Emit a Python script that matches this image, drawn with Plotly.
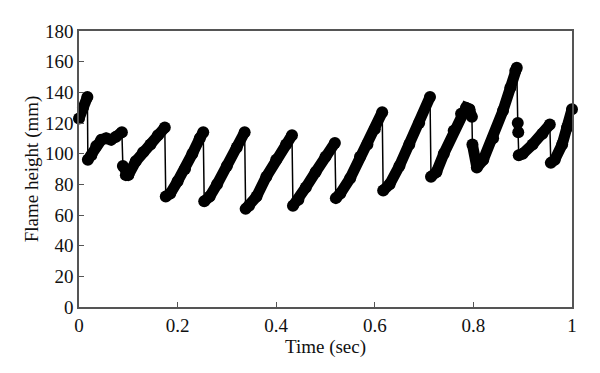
import plotly.graph_objects as go

# Time (sec) and flame height (mm)
time_s = [0.000, 0.008, 0.017, 0.018, 0.025, 0.035, 0.045, 0.055, 0.065, 0.075, 0.087,
          0.089, 0.095, 0.100, 0.115, 0.130, 0.145, 0.160, 0.174,
          0.176, 0.185, 0.200, 0.215, 0.230, 0.245, 0.252,
          0.254, 0.265, 0.280, 0.300, 0.320, 0.336,
          0.338, 0.345, 0.360, 0.380, 0.400, 0.420, 0.432,
          0.434, 0.445, 0.460, 0.480, 0.500, 0.519,
          0.521, 0.530, 0.550, 0.570, 0.585, 0.600, 0.615,
          0.617, 0.630, 0.650, 0.670, 0.690, 0.712,
          0.714, 0.725, 0.740, 0.760, 0.775, 0.785, 0.792, 0.797,
          0.798, 0.807, 0.820, 0.840, 0.860, 0.875, 0.885, 0.888,
          0.890, 0.891, 0.892, 0.900, 0.920, 0.940, 0.955,
          0.957, 0.965, 0.980, 0.990, 1.000]
height_mm = [123, 130, 137, 96, 99, 105, 109, 110, 109, 111, 114,
             92, 86, 86, 95, 101, 106, 112, 117,
             72, 74, 82, 90, 100, 110, 114,
             69, 72, 80, 92, 104, 114,
             64, 66, 72, 85, 96, 106, 112,
             66, 70, 78, 88, 98, 107,
             71, 74, 84, 98, 106, 116, 127,
             76, 80, 92, 106, 120, 137,
             85, 88, 100, 115, 126, 130, 129, 124,
             106, 91, 96, 110, 128, 143, 154, 156,
             120, 114, 99, 100, 106, 113, 119,
             94, 96, 106, 117, 129]

x_ticks = [0, 0.2, 0.4, 0.6, 0.8, 1]
x_tick_text = ["0", "0.2", "0.4", "0.6", "0.8", "1"]
y_ticks = [0, 20, 40, 60, 80, 100, 120, 140, 160, 180]

# Thick trace for the rising parts; fast drops are drawn thin
thick_x, thick_y = [time_s[0]], [height_mm[0]]
for i in range(1, len(time_s)):
    dt = time_s[i] - time_s[i - 1]
    dv = height_mm[i] - height_mm[i - 1]
    if dv < -5 and dt <= 0.005:
        thick_x.append(None)
        thick_y.append(None)
    thick_x.append(time_s[i])
    thick_y.append(height_mm[i])

fig = go.Figure()
fig.add_trace(go.Scatter(x=time_s, y=height_mm, mode="lines+markers",
                         line=dict(color="black", width=1.5),
                         marker=dict(color="black", size=12),
                         cliponaxis=False, showlegend=False))
fig.add_trace(go.Scatter(x=thick_x, y=thick_y, mode="lines",
                         line=dict(color="black", width=11),
                         cliponaxis=False, showlegend=False, connectgaps=False))

font_family = "Liberation Serif"
axis_common = dict(showline=True, linecolor="#555555", linewidth=1.5, mirror=True,
                   ticks="inside", ticklen=5, tickcolor="#555555", tickwidth=1,
                   showgrid=False, zeroline=False,
                   tickfont=dict(family=font_family, size=19, color="#111111"))

fig.update_layout(
    width=600, height=373,
    margin=dict(l=71, r=36, t=23, b=74),
    paper_bgcolor="white", plot_bgcolor="white",
    xaxis=dict(range=[0, 1], tickvals=x_ticks, ticktext=x_tick_text,
               title=dict(text="Time (sec)", standoff=1,
                          font=dict(family=font_family, size=19, color="#111111")),
               **axis_common),
    yaxis=dict(range=[0, 180], tickvals=y_ticks,
               title=dict(text="Flame height (mm)", standoff=1,
                          font=dict(family=font_family, size=19, color="#111111")),
               **axis_common),
)

fig.write_html("out.html")
